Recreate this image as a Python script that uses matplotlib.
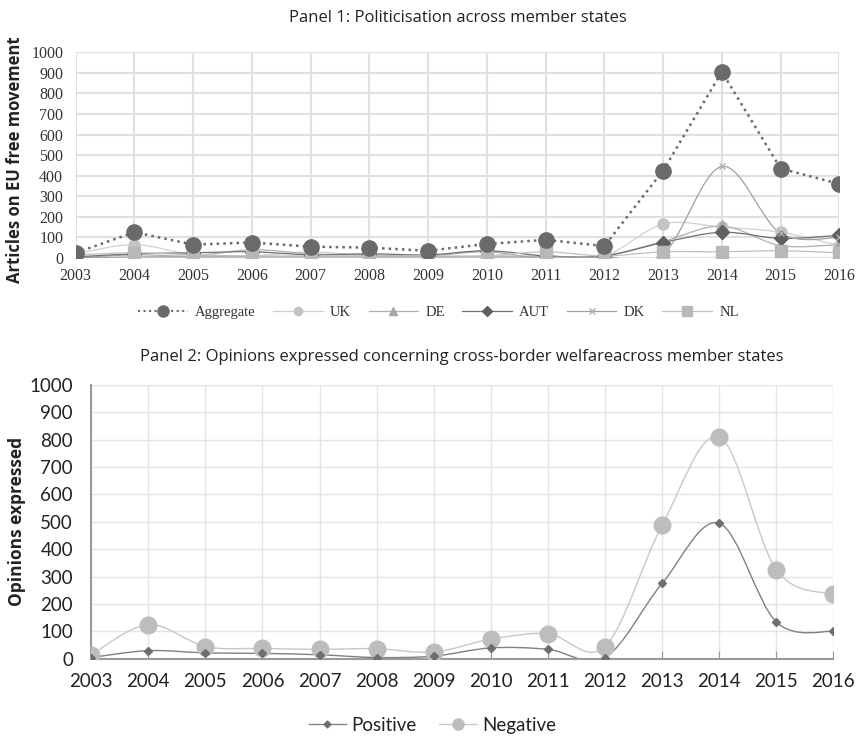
import matplotlib
matplotlib.use('Agg')
import matplotlib.pyplot as plt
import numpy as np
from matplotlib.path import Path
from matplotlib.patches import PathPatch

years = [2003, 2004, 2005, 2006, 2007, 2008, 2009, 2010, 2011, 2012, 2013, 2014, 2015, 2016]

# panel 1 - articles on EU free movement
aggregate = [25, 125, 65, 75, 55, 50, 35, 68, 88, 58, 425, 905, 435, 360]
uk = [20, 65, 15, 10, 30, 10, 5, 10, 10, 10, 165, 150, 125, 60]
de = [0, 15, 10, 40, 20, 15, 10, 30, -5, 10, 80, 155, 60, 65]
aut = [5, 20, 25, 30, 15, 20, 15, 35, 10, 10, 75, 125, 95, 110]
dk = [0, 5, 5, 5, 5, 5, 5, 5, 5, 5, 20, 445, 120, 100]
nl = [15, 25, 15, 10, 10, 10, 10, 10, 30, 10, 30, 30, 35, 25]

# panel 2 - opinions on cross-border welfare
positive = [5, 30, 22, 20, 15, 5, 10, 40, 35, 5, 275, 495, 135, 100]
negative = [15, 125, 45, 38, 35, 37, 25, 72, 92, 45, 487, 810, 325, 235]

yticks = list(range(0, 1001, 100))


def smooth(ax, x, y, color, lw, z=2):
    # excel style smoothed line: catmull-rom segments as bezier curves
    x = np.asarray(x, float)
    y = np.asarray(y, float)
    verts = [(x[0], y[0])]
    codes = [Path.MOVETO]
    n = len(x)
    for i in range(n - 1):
        p0 = i - 1 if i > 0 else i
        p3 = i + 2 if i + 2 < n else i + 1
        c1 = (x[i] + (x[i + 1] - x[p0]) / 6, y[i] + (y[i + 1] - y[p0]) / 6)
        c2 = (x[i + 1] - (x[p3] - x[i]) / 6, y[i + 1] - (y[p3] - y[i]) / 6)
        verts += [c1, c2, (x[i + 1], y[i + 1])]
        codes += [Path.CURVE4] * 3
    ax.add_patch(PathPatch(Path(verts, codes), fill=False, edgecolor=color, lw=lw, zorder=z))


fig = plt.figure(figsize=(8.6, 7.37), dpi=100)

# ---------- panel 1 ----------
ax1 = fig.add_axes([0.088, 0.650, 0.888, 0.279])
serif = 'Liberation Serif'

series1 = [
    # name, values, marker colour, marker, size, legend size, line colour
    ('UK', uk, '#c4c4c4', 'o', 8, 6, '#d0d0d0'),
    ('DE', de, '#a8a8a8', '^', 8, 6, '#b0b0b0'),
    ('AUT', aut, '#606060', 'D', 7, 5, '#707070'),
    ('DK', dk, '#b0b0b0', 'x', 5, 4, '#a0a0a0'),
    ('NL', nl, '#b8b8b8', 's', 9, 6.5, '#c0c0c0'),
]
handles = []
ax1.plot(years, aggregate, linestyle=':', color='#6a6a6a', lw=1.8, marker='o',
         markersize=11, markerfacecolor='#6a6a6a', markeredgecolor='#6a6a6a', zorder=4)
h, = ax1.plot([], [], linestyle=':', color='#6a6a6a', lw=1.5, marker='o', markersize=8,
              label='Aggregate')
handles.append(h)
for name, vals, col, mk, ms, lms, lcol in series1:
    smooth(ax1, years, vals, lcol, 0.9)
    ax1.plot(years, vals, linestyle='none', marker=mk, markersize=ms, color=col,
             markeredgecolor=col, zorder=3)
    hh, = ax1.plot([], [], color=lcol, lw=0.9, marker=mk, markersize=lms, markerfacecolor=col,
                   markeredgecolor=col, label=name)
    handles.append(hh)

ax1.set_xlim(2003, 2016)
ax1.set_ylim(0, 1000)
ax1.set_yticks(yticks)
ax1.set_xticks(years)
ax1.grid(True, color='#e0e0e0', lw=1.5)
ax1.set_axisbelow(True)
for s in ax1.spines.values():
    s.set_visible(False)
ax1.tick_params(length=0, labelsize=11.5)
ax1.tick_params(axis='y', pad=9)
ax1.tick_params(axis='x', pad=7)
for lab in ax1.get_xticklabels() + ax1.get_yticklabels():
    lab.set_family(serif)
    lab.set_color('#333333')
ax1.set_ylabel('Articles on EU free movement', fontsize=12, fontweight='bold',
               family='Open Sans', color='#222222')
ax1.yaxis.set_label_coords(-0.068, 0.48)
ax1.set_title('Panel 1: Politicisation across member states', fontsize=12,
              family='Open Sans', color='#222222', pad=22)
leg1 = ax1.legend(handles=handles, loc='upper center', bbox_to_anchor=(0.475, -0.17), ncol=6,
                  frameon=False, prop={'family': serif, 'size': 10.5}, handlelength=3.4,
                  columnspacing=1.2, handletextpad=0.5)
for t in leg1.get_texts():
    t.set_color('#333333')

# ---------- panel 2 ----------
ax2 = fig.add_axes([0.106, 0.106, 0.863, 0.372])
smooth(ax2, years, negative, '#c8c8c8', 1.0)
smooth(ax2, years, positive, '#808080', 1.0)
ax2.plot(years, negative, linestyle='none', marker='o', markersize=12, color='#bdbdbd', zorder=3)
ax2.plot(years, positive, linestyle='none', marker='D', markersize=4, color='#6e6e6e', zorder=3)
hp, = ax2.plot([], [], color='#808080', lw=1.0, marker='D', markersize=3.5,
               markerfacecolor='#6e6e6e', markeredgecolor='#6e6e6e', label='Positive')
hn, = ax2.plot([], [], color='#c8c8c8', lw=1.0, marker='o', markersize=8,
               markerfacecolor='#bdbdbd', markeredgecolor='#bdbdbd', label='Negative')

ax2.set_xlim(2003, 2016)
ax2.set_ylim(0, 1000)
ax2.set_yticks(yticks)
ax2.set_xticks(years)
ax2.grid(True, color='#e4e4e4', lw=1.0)
ax2.set_axisbelow(True)
for k in ('top', 'right'):
    ax2.spines[k].set_visible(False)
for k in ('left', 'bottom'):
    ax2.spines[k].set_color('#9a9a9a')
    ax2.spines[k].set_linewidth(1.5)
ax2.tick_params(axis='both', color='#9a9a9a', labelsize=13.5, labelcolor='#222222')
ax2.tick_params(axis='x', direction='in', length=6, pad=10)
ax2.tick_params(axis='y', direction='in', length=0, pad=13)
for lab in ax2.get_xticklabels() + ax2.get_yticklabels():
    lab.set_family('Lato')
ax2.set_ylabel('Opinions expressed', fontsize=12.5, fontweight='bold', family='Open Sans',
               color='#222222')
ax2.yaxis.set_label_coords(-0.088, 0.5)
ax2.set_title('Panel 2: Opinions expressed concerning cross-border welfareacross member states',
              fontsize=12, family='Open Sans', color='#222222', pad=17)
leg2 = ax2.legend(handles=[hp, hn], loc='upper center', bbox_to_anchor=(0.46, -0.15), ncol=2,
                  frameon=False, prop={'family': 'Lato', 'size': 13.5}, handlelength=2.0,
                  columnspacing=1.2, handletextpad=0.3)
for t in leg2.get_texts():
    t.set_color('#222222')

fig.savefig('out.png', dpi=100)
